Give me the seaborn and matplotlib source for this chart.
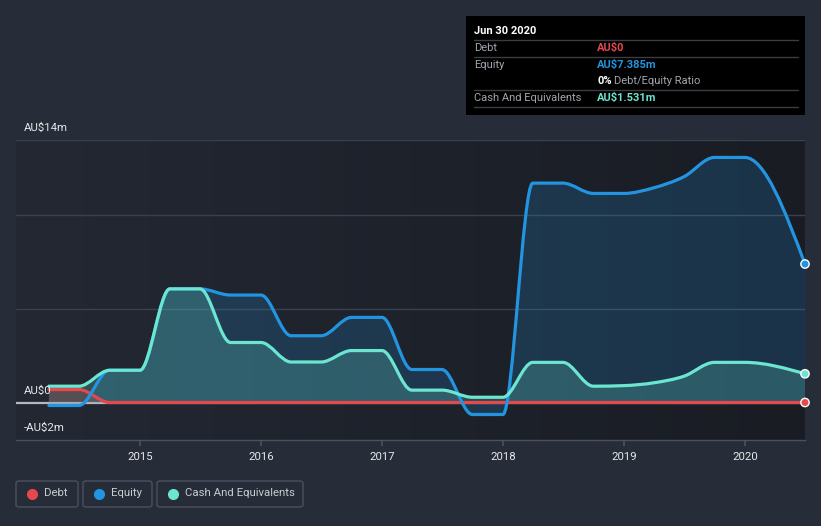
import numpy as np
import pandas as pd
import matplotlib
matplotlib.use("Agg")
import matplotlib.pyplot as plt
import seaborn as sns
from matplotlib.path import Path
from matplotlib.patches import PathPatch, Rectangle, FancyBboxPatch
from matplotlib.lines import Line2D

# ---------------- data (AU$ millions) ----------------
dates = ["2014-03-31", "2014-06-30", "2014-09-30", "2014-12-31",
         "2015-03-31", "2015-06-30", "2015-09-30", "2015-12-31",
         "2016-03-31", "2016-06-30", "2016-09-30", "2016-12-31",
         "2017-03-31", "2017-06-30", "2017-09-30", "2017-12-31",
         "2018-03-31", "2018-06-30", "2018-09-30", "2018-12-31",
         "2019-03-31", "2019-06-30", "2019-09-30", "2019-12-31",
         "2020-06-30"]
debt = [0.69, 0.69, 0, 0, 0, 0, 0, 0, 0, 0, 0, 0, 0, 0, 0, 0,
        0, 0, 0, 0, 0, 0, 0, 0, 0]
equity = [-0.16, -0.16, 1.72, 1.72, 6.06, 6.06, 5.73, 5.73,
          3.56, 3.56, 4.54, 4.54, 1.76, 1.76, -0.64, -0.64,
          11.7, 11.7, 11.15, 11.15, 11.45, 12.04, 13.07, 13.07, 7.385]
cash = [0.87, 0.87, 1.72, 1.72, 6.06, 6.06, 3.2, 3.2,
        2.16, 2.16, 2.77, 2.77, 0.66, 0.66, 0.28, 0.28,
        2.14, 2.14, 0.87, 0.9, 1.05, 1.4, 2.14, 2.14, 1.531]
x_ticks = [2015, 2016, 2017, 2018, 2019, 2020]
y_labels = {14: "AU$14m", 0: "AU$0", -2: "-AU$2m"}
series_names = ["Debt", "Equity", "Cash And Equivalents"]

# ---------------- style ----------------
BG = "#262c38"
DEBT_C = "#e5484d"
EQ_C = "#2394df"
CASH_C = "#6ce5d1"
TXT = "#e6e8eb"
GREY = "#a2a6ae"

sns.set_theme(style="dark")
plt.rcParams["font.family"] = ["Roboto", "DejaVu Sans"]


def decimal_year(s):
    ts = pd.Timestamp(s)
    start = pd.Timestamp(year=ts.year, month=1, day=1)
    end = pd.Timestamp(year=ts.year + 1, month=1, day=1)
    return ts.year + (ts - start).days / (end - start).days


xs = np.array([decimal_year(d) for d in dates])


def monotone_path(x, y, close_to=None):
    """Bezier path like d3.curveMonotoneX through the data points."""
    x = np.asarray(x, float)
    y = np.asarray(y, float)
    n = len(x)
    t = np.zeros(n)
    for i in range(1, n - 1):
        h0 = x[i] - x[i - 1]
        h1 = x[i + 1] - x[i]
        s0 = (y[i] - y[i - 1]) / h0
        s1 = (y[i + 1] - y[i]) / h1
        p = (s0 * h1 + s1 * h0) / (h0 + h1)
        t[i] = (np.sign(s0) + np.sign(s1)) * min(abs(s0), abs(s1), 0.5 * abs(p))
    h = x[1] - x[0]
    t[0] = (3 * (y[1] - y[0]) / h - t[1]) / 2
    h = x[-1] - x[-2]
    t[-1] = (3 * (y[-1] - y[-2]) / h - t[-2]) / 2
    verts = [(x[0], y[0])]
    codes = [Path.MOVETO]
    for i in range(n - 1):
        dx = (x[i + 1] - x[i]) / 3
        verts += [(x[i] + dx, y[i] + dx * t[i]),
                  (x[i + 1] - dx, y[i + 1] - dx * t[i + 1]),
                  (x[i + 1], y[i + 1])]
        codes += [Path.CURVE4] * 3
    if close_to is not None:
        verts += [(x[-1], close_to), (x[0], close_to), (x[0], y[0])]
        codes += [Path.LINETO, Path.LINETO, Path.CLOSEPOLY]
    return Path(verts, codes)


W, H = 821, 526
fig = plt.figure(figsize=(W / 100, H / 100), dpi=100, facecolor=BG)
ax = fig.add_axes([16 / W, 86 / H, 789 / W, 300 / H])
ax.set_facecolor("none")
xmin, xmax = 2013.972, xs[-1]
ax.set_xlim(xmin, xmax)
ax.set_ylim(-2, 14)

# plot background gradient (left lighter, right darker)
c0 = np.array(matplotlib.colors.to_rgb("#232833"))
c1 = np.array(matplotlib.colors.to_rgb("#191c23"))
g = np.linspace(0, 1, 256)[None, :, None]
img = c0 * (1 - g) + c1 * g
ax.imshow(img, extent=[xmin, xmax, -2, 14], aspect="auto", zorder=0,
          interpolation="bilinear")

# gridlines
for gv in [14, 10, 5]:
    ax.axhline(gv, color="#3a404d", lw=1, zorder=1)
ax.axhline(0, color="#b5b8bf", lw=1.6, zorder=2)

# fills
ax.add_patch(PathPatch(monotone_path(xs, equity, 0), facecolor=EQ_C,
                       alpha=0.2, edgecolor="none", zorder=3))
ax.add_patch(PathPatch(monotone_path(xs, cash, 0), facecolor=CASH_C,
                       alpha=0.22, edgecolor="none", zorder=4))
ax.add_patch(PathPatch(monotone_path(xs, debt, 0), facecolor=DEBT_C,
                       alpha=0.2, edgecolor="none", zorder=5))

# lines
for vals, col, z in [(debt, DEBT_C, 6), (equity, EQ_C, 7), (cash, CASH_C, 8)]:
    ax.add_patch(PathPatch(monotone_path(xs, vals), facecolor="none",
                           edgecolor=col, lw=2.3, zorder=z,
                           capstyle="round", joinstyle="round"))

# end markers
end_df = pd.DataFrame({"x": [xs[-1]] * 3,
                       "y": [debt[-1], equity[-1], cash[-1]],
                       "s": series_names})
sns.scatterplot(data=end_df, x="x", y="y", hue="s",
                palette=[DEBT_C, EQ_C, CASH_C], s=36, edgecolor="white",
                linewidth=1, legend=False, ax=ax, zorder=10, clip_on=False)

# axes styling
for sp in ["top", "right", "left"]:
    ax.spines[sp].set_visible(False)
ax.spines["bottom"].set_color("#4a505d")
ax.spines["bottom"].set_linewidth(1)
ax.set_xticks(x_ticks)
ax.set_xticklabels([str(v) for v in x_ticks], color=TXT, fontsize=8.2)
ax.tick_params(axis="x", length=4, color="#4a505d", pad=5, bottom=True)
ax.set_yticks([])
ax.set_xlabel("")
ax.set_ylabel("")
ax.grid(False)

# y labels inside plot
for v, lab in y_labels.items():
    ypix = 402.5 - v * 18.75
    fig.text(24 / W, 1 - (ypix - 12) / H, lab, color=TXT, fontsize=8.2,
             va="center", ha="left")

# tooltip box
fig.patches.append(Rectangle((466 / W, 1 - 115 / H), 339 / W, 99 / H,
                             transform=fig.transFigure, facecolor="black",
                             edgecolor="none", zorder=20))
fig.text(474 / W, 1 - 31 / H, "Jun 30 2020", color="white", fontsize=8,
         fontweight="bold", va="center", zorder=21)
for yl in [40, 57, 90, 107]:
    fig.add_artist(Line2D([474 / W, 798 / W], [1 - yl / H, 1 - yl / H],
                          transform=fig.transFigure, color="#3a3d42",
                          lw=1, zorder=21))
rows = [("Debt", "AU$0", DEBT_C, 48), ("Equity", "AU$7.385m", EQ_C, 65),
        ("Cash And Equivalents", "AU$1.531m", CASH_C, 98)]
for lab, val, col, yy in rows:
    fig.text(474 / W, 1 - yy / H, lab, color=GREY, fontsize=8,
             va="center", zorder=21)
    fig.text(597 / W, 1 - yy / H, val, color=col, fontsize=8,
             fontweight="bold", va="center", zorder=21)
fig.text(597 / W, 1 - 81 / H, "0%", color="white", fontsize=8,
         fontweight="bold", va="center", zorder=21)
fig.text(614 / W, 1 - 81 / H, "Debt/Equity Ratio", color=GREY, fontsize=8,
         va="center", zorder=21)

# legend boxes
leg = [(16, 78, DEBT_C), (83, 152, EQ_C), (157, 303, CASH_C)]
for (x0, x1, col), name in zip(leg, series_names):
    fig.patches.append(FancyBboxPatch((x0 / W, 1 - 507 / H),
                                      (x1 - x0) / W, 26 / H,
                                      boxstyle="round,pad=0,rounding_size=0.004",
                                      transform=fig.transFigure,
                                      facecolor="none", edgecolor="#4b515e",
                                      lw=1, zorder=20))
    fig.add_artist(Line2D([(x0 + 16) / W], [1 - 493.5 / H], marker="o",
                          markersize=7, color=col, lw=0,
                          transform=fig.transFigure, zorder=21))
    fig.text((x0 + 28) / W, 1 - 493.5 / H, name, color="#c9ccd1",
             fontsize=8.2, va="center", zorder=21)

fig.savefig("out.png", dpi=100, facecolor=BG)
